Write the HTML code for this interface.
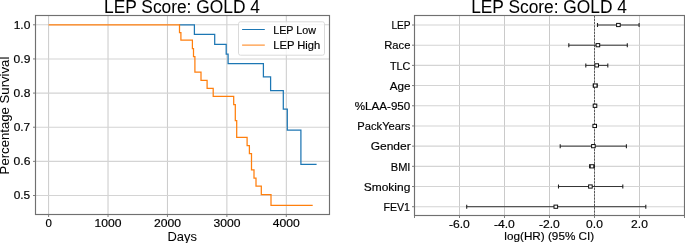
<!DOCTYPE html>
<html><head><meta charset="utf-8"><style>
html,body{margin:0;padding:0;background:#fff;}
svg{display:block;}
text{font-family:"Liberation Sans",sans-serif;stroke:#000;stroke-width:0.16px;}
text.t{stroke-width:0.04px;}
text.l{stroke-width:0.03px;}
</style></head><body>
<svg width="685" height="243" viewBox="0 0 685 243">
<defs><filter id="b" x="0" y="0" width="685" height="243" filterUnits="userSpaceOnUse"><feGaussianBlur stdDeviation="0.3"/></filter></defs>
<g filter="url(#b)">
<rect width="685" height="243" fill="#fff"/>
<path d="M48.60 15.5V214.5 M108.03 15.5V214.5 M167.45 15.5V214.5 M226.88 15.5V214.5 M286.30 15.5V214.5 M459.50 15.5V215.5 M504.50 15.5V215.5 M549.50 15.5V215.5 M594.50 15.5V215.5 M639.50 15.5V215.5" stroke="#cacaca" stroke-width="1" fill="none"/>
<path d="M35.5 195.50H329.5 M35.5 161.36H329.5 M35.5 127.22H329.5 M35.5 93.08H329.5 M35.5 58.94H329.5 M35.5 24.80H329.5 M414.5 25.00H684.5 M414.5 45.19H684.5 M414.5 65.38H684.5 M414.5 85.57H684.5 M414.5 105.76H684.5 M414.5 125.95H684.5 M414.5 146.14H684.5 M414.5 166.33H684.5 M414.5 186.52H684.5 M414.5 206.71H684.5" stroke="#d4d4d4" stroke-width="1.1" fill="none"/>
<path d="M179.2 24.8 L194.4 24.8 L194.4 34.4 L214.7 34.4 L214.7 44.4 L226.2 44.4 L226.2 54.2 L228.1 54.2 L228.1 63.7 L263.4 63.7 L263.4 76.8 L270.6 76.8 L270.6 90.6 L283.3 90.6 L283.3 109.2 L287.3 109.2 L287.3 130.2 L300.9 130.2 L300.9 164.3 L316.6 164.3" stroke="#1f77b4" stroke-width="1.25" fill="none" stroke-linejoin="miter" stroke-linecap="butt"/>
<path d="M48.6 24.8 L179.5 24.8 L179.5 32.5 L180.9 32.5 L180.9 40.2 L192.4 40.2 L192.4 48.5 L193.5 48.5 L193.5 56.6 L194.9 56.6 L194.9 72.2 L201 72.2 L201 80.3 L207.1 80.3 L207.1 88.3 L213.2 88.3 L213.2 96.3 L233.7 96.3 L233.7 104.5 L235.3 104.5 L235.3 120.6 L236.7 120.6 L236.7 137.4 L247.1 137.4 L247.1 145.5 L249.4 145.5 L249.4 153.5 L251.5 153.5 L251.5 169.9 L254 169.9 L254 178.1 L256 178.1 L256 186 L261.3 186 L261.3 194.6 L271 194.6 L271 205.4 L312.7 205.4" stroke="#ff7f0e" stroke-width="1.25" fill="none" stroke-linejoin="miter" stroke-linecap="butt"/>
<path d="M594.5 15.5V215.5" stroke="#4a4a4a" stroke-width="0.9" stroke-dasharray="2.2 1.05" fill="none"/>
<path d="M597.5 25.00H639.1" stroke="#2a2a2a" stroke-width="0.95" fill="none"/>
<path d="M597.5 23.00v4M639.1 23.00v4" stroke="#222" stroke-width="1.1" fill="none"/>
<rect x="616.60" y="23.40" width="3.6" height="3.2" fill="#fff" stroke="#111" stroke-width="1"/>
<path d="M568.8 45.19H627.3" stroke="#2a2a2a" stroke-width="0.95" fill="none"/>
<path d="M568.8 43.19v4M627.3 43.19v4" stroke="#222" stroke-width="1.1" fill="none"/>
<rect x="596.10" y="43.59" width="3.6" height="3.2" fill="#fff" stroke="#111" stroke-width="1"/>
<path d="M585.8 65.38H607.8" stroke="#2a2a2a" stroke-width="0.95" fill="none"/>
<path d="M585.8 63.38v4M607.8 63.38v4" stroke="#222" stroke-width="1.1" fill="none"/>
<rect x="594.90" y="63.78" width="3.6" height="3.2" fill="#fff" stroke="#111" stroke-width="1"/>
<path d="M593.3 85.57H597.2" stroke="#2a2a2a" stroke-width="0.95" fill="none"/>
<path d="M593.3 83.57v4M597.2 83.57v4" stroke="#222" stroke-width="1.1" fill="none"/>
<rect x="593.40" y="83.97" width="3.6" height="3.2" fill="#fff" stroke="#111" stroke-width="1"/>
<path d="M594.2 105.76H595.8" stroke="#2a2a2a" stroke-width="0.95" fill="none"/>
<path d="M594.2 103.76v4M595.8 103.76v4" stroke="#222" stroke-width="1.1" fill="none"/>
<rect x="593.20" y="104.16" width="3.6" height="3.2" fill="#fff" stroke="#111" stroke-width="1"/>
<path d="M594.4 125.95H595.0" stroke="#2a2a2a" stroke-width="0.95" fill="none"/>
<path d="M594.4 123.95v4M595.0 123.95v4" stroke="#222" stroke-width="1.1" fill="none"/>
<rect x="592.90" y="124.35" width="3.6" height="3.2" fill="#fff" stroke="#111" stroke-width="1"/>
<path d="M560.2 146.14H626.4" stroke="#2a2a2a" stroke-width="0.95" fill="none"/>
<path d="M560.2 144.14v4M626.4 144.14v4" stroke="#222" stroke-width="1.1" fill="none"/>
<rect x="591.60" y="144.54" width="3.6" height="3.2" fill="#fff" stroke="#111" stroke-width="1"/>
<path d="M589.6 166.33H594.4" stroke="#2a2a2a" stroke-width="0.95" fill="none"/>
<path d="M589.6 164.33v4M594.4 164.33v4" stroke="#222" stroke-width="1.1" fill="none"/>
<rect x="590.20" y="164.73" width="3.6" height="3.2" fill="#fff" stroke="#111" stroke-width="1"/>
<path d="M558.5 186.52H622.8" stroke="#2a2a2a" stroke-width="0.95" fill="none"/>
<path d="M558.5 184.52v4M622.8 184.52v4" stroke="#222" stroke-width="1.1" fill="none"/>
<rect x="588.60" y="184.92" width="3.6" height="3.2" fill="#fff" stroke="#111" stroke-width="1"/>
<path d="M466.7 206.71H645.8" stroke="#2a2a2a" stroke-width="0.95" fill="none"/>
<path d="M466.7 204.71v4M645.8 204.71v4" stroke="#222" stroke-width="1.1" fill="none"/>
<rect x="554.00" y="205.11" width="3.6" height="3.2" fill="#fff" stroke="#111" stroke-width="1"/>
<rect x="238.5" y="21.8" width="86" height="33.4" rx="2" ry="2" fill="#fff" fill-opacity="0.8" stroke="#d6d6d6" stroke-width="0.9"/>
<path d="M242.1 29.5H264.8" stroke="#1f77b4" stroke-width="1.0"/>
<path d="M242.1 45.1H264.8" stroke="#ff7f0e" stroke-width="1.0"/>
<rect x="35.5" y="15.5" width="294.0" height="199.0" fill="none" stroke="#707070" stroke-width="1.15"/>
<rect x="414.5" y="15.5" width="270.0" height="200.0" fill="none" stroke="#707070" stroke-width="1.15"/>
<path d="M48.60 214.5v2.5 M108.03 214.5v2.5 M167.45 214.5v2.5 M226.88 214.5v2.5 M286.30 214.5v2.5 M35.5 195.50h-2.5 M35.5 161.36h-2.5 M35.5 127.22h-2.5 M35.5 93.08h-2.5 M35.5 58.94h-2.5 M35.5 24.80h-2.5 M414.50 215.5v2.5 M459.50 215.5v2.5 M504.50 215.5v2.5 M549.50 215.5v2.5 M594.50 215.5v2.5 M639.50 215.5v2.5 M684.50 215.5v2.5 M414.5 25.00h-2.5 M414.5 45.19h-2.5 M414.5 65.38h-2.5 M414.5 85.57h-2.5 M414.5 105.76h-2.5 M414.5 125.95h-2.5 M414.5 146.14h-2.5 M414.5 166.33h-2.5 M414.5 186.52h-2.5 M414.5 206.71h-2.5" stroke="#707070" stroke-width="0.9" fill="none"/>
<text x="104.06" y="12.80" font-size="17.6" textLength="155.83" lengthAdjust="spacingAndGlyphs" fill="#000" class="t">LEP Score: GOLD 4</text>
<text x="471.16" y="12.80" font-size="17.6" textLength="155.83" lengthAdjust="spacingAndGlyphs" fill="#000" class="t">LEP Score: GOLD 4</text>
<text x="13.65" y="199.40" font-size="10.6" textLength="16.50" lengthAdjust="spacingAndGlyphs" fill="#000">0.5</text>
<text x="13.64" y="165.26" font-size="10.6" textLength="16.85" lengthAdjust="spacingAndGlyphs" fill="#000">0.6</text>
<text x="13.65" y="131.12" font-size="10.6" textLength="16.63" lengthAdjust="spacingAndGlyphs" fill="#000">0.7</text>
<text x="13.64" y="96.98" font-size="10.6" textLength="16.73" lengthAdjust="spacingAndGlyphs" fill="#000">0.8</text>
<text x="13.64" y="62.84" font-size="10.6" textLength="16.74" lengthAdjust="spacingAndGlyphs" fill="#000">0.9</text>
<text x="13.71" y="28.70" font-size="10.6" textLength="16.66" lengthAdjust="spacingAndGlyphs" fill="#000">1.0</text>
<text x="45.41" y="226.50" font-size="10.6" textLength="6.39" lengthAdjust="spacingAndGlyphs" fill="#000">0</text>
<text x="94.56" y="226.50" font-size="10.6" textLength="26.99" lengthAdjust="spacingAndGlyphs" fill="#000">1000</text>
<text x="153.91" y="226.50" font-size="10.6" textLength="27.07" lengthAdjust="spacingAndGlyphs" fill="#000">2000</text>
<text x="213.46" y="226.50" font-size="10.6" textLength="26.94" lengthAdjust="spacingAndGlyphs" fill="#000">3000</text>
<text x="272.79" y="226.50" font-size="10.6" textLength="27.03" lengthAdjust="spacingAndGlyphs" fill="#000">4000</text>
<text x="448.96" y="227.50" font-size="10.6" textLength="20.89" lengthAdjust="spacingAndGlyphs" fill="#000">-6.0</text>
<text x="493.96" y="227.50" font-size="10.6" textLength="20.89" lengthAdjust="spacingAndGlyphs" fill="#000">-4.0</text>
<text x="538.96" y="227.50" font-size="10.6" textLength="20.89" lengthAdjust="spacingAndGlyphs" fill="#000">-2.0</text>
<text x="586.13" y="227.50" font-size="10.6" textLength="16.73" lengthAdjust="spacingAndGlyphs" fill="#000">0.0</text>
<text x="631.12" y="227.50" font-size="10.6" textLength="16.75" lengthAdjust="spacingAndGlyphs" fill="#000">2.0</text>
<text x="391.41" y="29.20" font-size="10.6" textLength="19.25" lengthAdjust="spacingAndGlyphs" fill="#000">LEP</text>
<text x="384.21" y="49.39" font-size="10.6" textLength="26.18" lengthAdjust="spacingAndGlyphs" fill="#000">Race</text>
<text x="390.02" y="69.58" font-size="10.6" textLength="20.40" lengthAdjust="spacingAndGlyphs" fill="#000">TLC</text>
<text x="389.66" y="89.77" font-size="10.6" textLength="20.77" lengthAdjust="spacingAndGlyphs" fill="#000">Age</text>
<text x="354.81" y="109.96" font-size="10.6" textLength="55.48" lengthAdjust="spacingAndGlyphs" fill="#000">%LAA-950</text>
<text x="357.35" y="130.15" font-size="10.6" textLength="52.95" lengthAdjust="spacingAndGlyphs" fill="#000">PackYears</text>
<text x="370.69" y="150.34" font-size="10.6" textLength="39.99" lengthAdjust="spacingAndGlyphs" fill="#000">Gender</text>
<text x="390.78" y="170.53" font-size="10.6" textLength="19.68" lengthAdjust="spacingAndGlyphs" fill="#000">BMI</text>
<text x="363.72" y="190.72" font-size="10.6" textLength="46.58" lengthAdjust="spacingAndGlyphs" fill="#000">Smoking</text>
<text x="383.43" y="210.91" font-size="10.6" textLength="26.61" lengthAdjust="spacingAndGlyphs" fill="#000">FEV1</text>
<text x="273.29" y="33.50" font-size="10.6" textLength="42.65" lengthAdjust="spacingAndGlyphs" fill="#000">LEP Low</text>
<text x="273.26" y="48.80" font-size="10.6" textLength="47.04" lengthAdjust="spacingAndGlyphs" fill="#000">LEP High</text>
<text x="167.42" y="240.60" font-size="12.2" textLength="29.47" lengthAdjust="spacingAndGlyphs" fill="#000" class="l">Days</text>
<text x="504.39" y="240.30" font-size="11.0" textLength="89.80" lengthAdjust="spacingAndGlyphs" fill="#000">log(HR) (95% CI)</text>
<text transform="translate(9.00,173.10) rotate(-90)" x="-1.30" y="0" font-size="12.2" textLength="117.77" lengthAdjust="spacingAndGlyphs" fill="#000" class="l">Percentage Survival</text>
</g>
</svg>
</body></html>
